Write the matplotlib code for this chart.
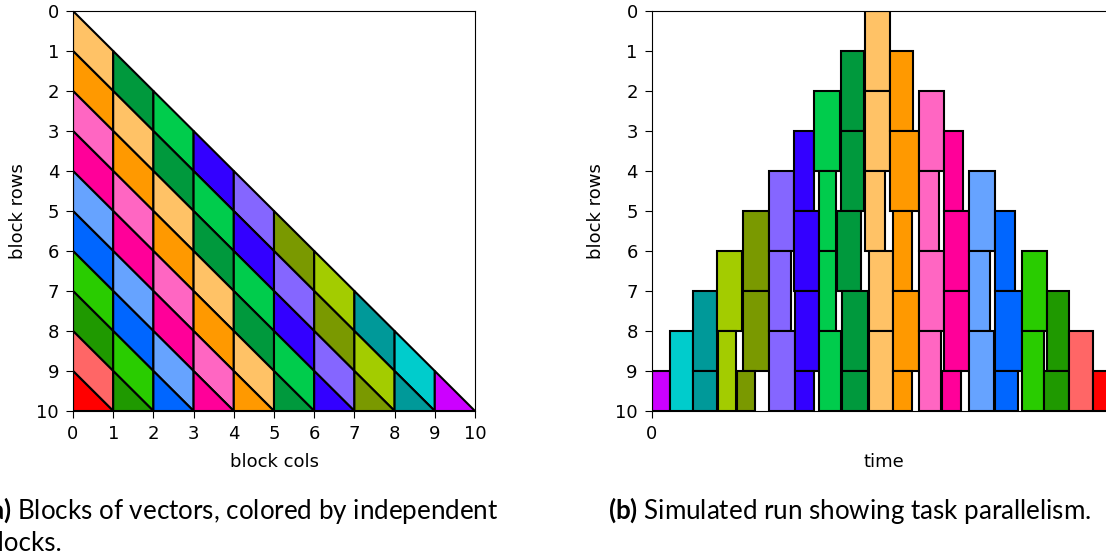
import matplotlib
matplotlib.use("Agg")
import matplotlib.pyplot as plt
from matplotlib.patches import Polygon

plt.rcParams['font.family'] = 'DejaVu Sans'
plt.rcParams['mathtext.fontset'] = 'custom'
plt.rcParams['mathtext.rm'] = 'Lato'
plt.rcParams['mathtext.bf'] = 'Lato:bold'

# colours of the independent blocks, from group -9 up to group 9
group_ids = list(range(-9, 10))
group_colors = ['#cc00ff', '#00cccc', '#009999', '#a3cc00', '#7a9900',
                '#8566ff', '#3300ff', '#00cc4c', '#00993d', '#ffc266',
                '#ff9900', '#ff66c2', '#ff0099', '#66a3ff', '#0066ff',
                '#29cc00', '#1f9900', '#ff6666', '#ff0000']
n_blocks = 10

# simulated run: one entry per task
task_group = [-9, -8, -7, -7, -6, -6, -5, -5, -5, -4, -4, -4,
              -3, -3, -3, -3, -2, -2, -2, -2, -1, -1, -1, -1, -1,
              0, 0, 0, 0, 0, 1, 1, 1, 1, 1, 2, 2, 2, 2,
              3, 3, 3, 3, 4, 4, 4, 5, 5, 5, 6, 6, 7, 7, 8, 9]
task_row = [9, 8, 7, 9, 6, 8, 5, 7, 9, 4, 6, 8,
            3, 5, 7, 9, 2, 4, 6, 8, 1, 3, 5, 7, 9,
            0, 2, 4, 6, 8, 1, 3, 5, 7, 9, 2, 4, 6, 8,
            3, 5, 7, 9, 4, 6, 8, 5, 7, 9, 6, 8, 7, 9, 8, 9]
task_start = [0.0, 1.8, 4.1, 4.1, 6.5, 6.6, 9.1, 9.1, 8.5, 11.7, 11.7, 11.7,
              14.2, 14.2, 14.3, 14.3, 16.2, 16.7, 16.7, 16.7, 18.9, 18.9, 18.5, 19.0, 19.0,
              21.3, 21.3, 21.3, 21.7, 21.7, 23.8, 23.8, 24.1, 24.1, 24.1,
              26.7, 26.7, 26.7, 26.7, 29.2, 29.2, 29.2, 29.0,
              31.7, 31.7, 31.7, 34.3, 34.3, 34.3, 37.0, 37.0, 39.5, 39.2, 41.7, 44.1]
task_end = [1.8, 4.1, 6.5, 6.5, 9.0, 8.4, 11.7, 11.7, 10.3, 14.2, 13.9, 14.3,
            16.2, 16.7, 16.7, 16.2, 18.8, 18.4, 18.4, 18.9, 21.2, 21.2, 20.9, 21.6, 21.6,
            23.8, 23.8, 23.3, 24.1, 24.1, 26.1, 26.7, 26.0, 26.7, 26.0,
            29.2, 28.7, 29.2, 28.9, 31.1, 31.7, 31.7, 30.9,
            34.3, 33.8, 34.2, 36.3, 37.0, 36.6, 39.5, 39.2, 41.7, 41.7, 44.1, 46.5]
time_max = 46.5

color_of = dict(zip(group_ids, group_colors))

fig = plt.figure(figsize=(11.06, 5.58), dpi=100)

#(a) triangle of blocks, cut into parallelograms along the diagonals
ax1 = fig.add_axes([73/1106, 147/558, 402/1106, 400/558])
for j in range(n_blocks):
    for k in range(j, n_blocks - 1):
        pts = [(j, k), (j + 1, k + 1), (j + 1, k + 2), (j, k + 1)]
        ax1.add_patch(Polygon(pts, closed=True, facecolor=color_of[k - 2*j],
                              edgecolor='black', linewidth=1.5))
    k = n_blocks - 1
    pts = [(j, k), (j + 1, k + 1), (j, k + 1)]
    ax1.add_patch(Polygon(pts, closed=True, facecolor=color_of[k - 2*j],
                          edgecolor='black', linewidth=1.5))
ax1.set_xlim(0, n_blocks)
ax1.set_ylim(n_blocks, 0)
ax1.set_xticks(range(n_blocks + 1))
ax1.set_yticks(range(n_blocks + 1))
ax1.set_xlabel('block cols', fontsize=13, labelpad=7)
ax1.set_ylabel('block rows', fontsize=13, labelpad=7)
ax1.tick_params(labelsize=13, length=5, pad=5)

#(b) simulated run
ax2 = fig.add_axes([651.7/1106, 147/558, 465/1106, 400/558])
for g, r, s, e in zip(task_group, task_row, task_start, task_end):
    h = 1 if r == n_blocks - 1 else 2
    ax2.barh(r, e - s, height=h, left=s, align='edge', color=color_of[g],
             edgecolor='black', linewidth=1.5)
ax2.set_xlim(0, time_max)
ax2.set_ylim(n_blocks, 0)
ax2.set_xticks([0])
ax2.set_yticks(range(n_blocks + 1))
ax2.set_xlabel('time', fontsize=13, labelpad=7)
ax2.set_ylabel('block rows', fontsize=13, labelpad=7)
ax2.tick_params(labelsize=13, length=5, pad=5)

fig.text(-17/1106, 1 - 519/558, r'$\mathbf{(a)}$ Blocks of vectors, colored by independent',
         fontsize=18.7, family='Lato', va='baseline')
fig.text(-17/1106, 1 - 551/558, 'blocks.', fontsize=18.7, family='Lato', va='baseline')
fig.text(608/1106, 1 - 519/558, r'$\mathbf{(b)}$ Simulated run showing task parallelism.',
         fontsize=18.7, family='Lato', va='baseline')

fig.savefig('out.png', dpi=100)
